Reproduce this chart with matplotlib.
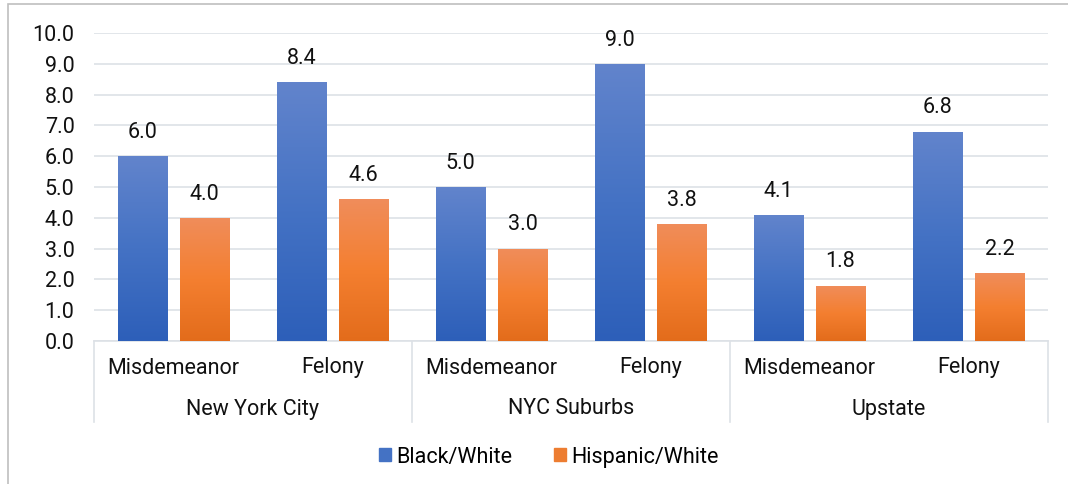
import matplotlib
matplotlib.use("Agg")
import matplotlib.pyplot as plt
import numpy as np
from matplotlib.patches import Rectangle
from matplotlib.colors import LinearSegmentedColormap
import matplotlib.transforms as mtransforms

plt.rcParams['font.family'] = ['Roboto', 'DejaVu Sans']

groups = ["New York City", "NYC Suburbs", "Upstate"]
subcats = ["Misdemeanor", "Felony", "Misdemeanor", "Felony", "Misdemeanor", "Felony"]
series_names = ["Black/White", "Hispanic/White"]
black_white = [6.0, 8.4, 5.0, 9.0, 4.1, 6.8]
hispanic_white = [4.0, 4.6, 3.0, 3.8, 1.8, 2.2]
yticks = [0, 1, 2, 3, 4, 5, 6, 7, 8, 9, 10]

FS = 15.5
TXT = "#111111"

W, H = 1068, 484
fig = plt.figure(figsize=(W / 100, H / 100), dpi=100)
ax = fig.add_axes([94 / W, 1 - 341 / H, (1048 - 94) / W, (341 - 33) / H])

blue_cmap = LinearSegmentedColormap.from_list("b", ["#2d5fb9", "#4472c4", "#6284cc"])
orange_cmap = LinearSegmentedColormap.from_list("o", ["#e36c1b", "#f47f30", "#f08d5b"])

x = np.arange(len(subcats))
bw = 0.31
off = 0.195
grad = np.linspace(0, 1, 256).reshape(-1, 1)

def gbar(xs, vals, cmap, color):
    bars = ax.bar(xs, vals, width=bw, color=color, zorder=2, linewidth=0)
    for b in bars:
        x0, y0 = b.get_x(), b.get_y()
        w, h = b.get_width(), b.get_height()
        im = ax.imshow(grad, cmap=cmap, origin="lower", aspect="auto",
                       extent=[x0, x0 + w, y0, y0 + h], zorder=3)
        im.set_clip_path(b)
    return bars

b1 = gbar(x - off, black_white, blue_cmap, "#4472c4")
b2 = gbar(x + off, hispanic_white, orange_cmap, "#ed7d31")

for xs, vals in [(x - off, black_white), (x + off, hispanic_white)]:
    for xi, v in zip(xs, vals):
        ax.annotate(f"{v:.1f}", (xi, v), xytext=(0, 17), textcoords="offset points",
                    ha="center", va="center", fontsize=FS, color=TXT)

ax.set_xlim(-0.5, 5.5)
ax.set_ylim(0, 10)
ax.set_yticks(yticks)
ax.set_yticklabels([f"{t:.1f}" for t in yticks], fontsize=FS, color=TXT)
ax.tick_params(axis="y", length=0, pad=14)
ax.set_xticks([])
for s in ["top", "right", "left"]:
    ax.spines[s].set_visible(False)
ax.spines["bottom"].set_color("#dde1e6")
ax.spines["bottom"].set_linewidth(1.2)
ax.yaxis.grid(True, color="#dde1e6", linewidth=1.2, zorder=0)
ax.set_axisbelow(True)

trans = mtransforms.blended_transform_factory(ax.transData, ax.transAxes)
axh = 341 - 33
for i, s in enumerate(subcats):
    ax.text(i, -(368 - 341) / axh, s, transform=trans, ha="center", va="center",
            fontsize=FS, color=TXT)
for g, name in enumerate(groups):
    ax.text(2 * g + 0.5, -(409 - 341) / axh, name, transform=trans, ha="center",
            va="center", fontsize=FS, color=TXT)
for xd in [-0.5, 1.5, 3.5, 5.5]:
    ax.plot([xd, xd], [0, -(422 - 341) / axh], transform=trans, color="#dde1e6",
            linewidth=1.2, clip_on=False)

handles = [Rectangle((0, 0), 1, 1, color="#4472c4"), Rectangle((0, 0), 1, 1, color="#ed7d31")]
fig.legend(handles, series_names, loc="center", bbox_to_anchor=(549 / W, 1 - 457 / H),
           ncol=2, frameon=False, fontsize=FS, handlelength=0.55, handleheight=0.55,
           handletextpad=0.25, columnspacing=1.95)

fig.patches.append(Rectangle((8 / W, -0.1), 1.2, 1 - 4 / H + 0.1, transform=fig.transFigure,
                             fill=False, edgecolor="#bfbfbf", linewidth=1.2))

fig.savefig("out.png", dpi=100)
